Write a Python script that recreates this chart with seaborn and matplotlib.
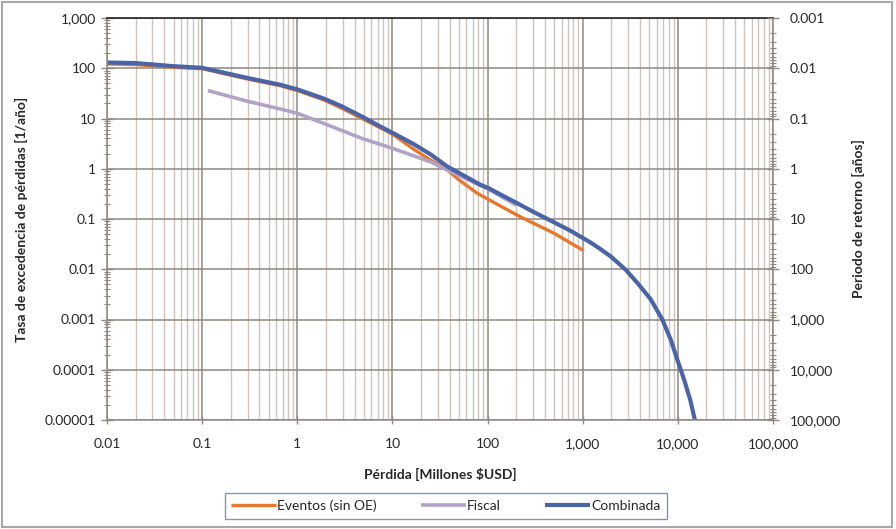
import numpy as np
import pandas as pd
import matplotlib
matplotlib.use("Agg")
import matplotlib.pyplot as plt
import seaborn as sns
from matplotlib.ticker import FixedLocator, LogLocator, NullFormatter, FixedFormatter
from matplotlib.patches import Rectangle

# ---------------- data ----------------
eventos_x = [0.01, 0.02, 0.05, 0.1, 0.3, 0.66, 1, 1.89, 2.84, 4.8, 10, 16.7, 25, 38, 50, 77,
             100, 222, 500, 1000]
eventos_y = [122, 118, 104, 98, 61, 45, 36, 23.5, 16.5, 10.0, 4.9, 2.45, 1.5, 0.94, 0.6, 0.33,
             0.25, 0.11, 0.052, 0.024]

fiscal_x = [0.115, 0.3, 0.66, 1, 1.89, 4.8, 10, 25, 38, 100, 200]
fiscal_y = [36, 22, 15.5, 12.7, 8.0, 4.0, 2.55, 1.38, 0.94, 0.40, 0.19]

combinada_x = [0.01, 0.02, 0.05, 0.1, 0.3, 0.66, 1, 1.89, 2.84, 4.8, 7.5, 10, 16.7, 25, 38, 84,
               100, 222, 300, 460, 748, 1000, 1210, 1500, 1970, 2840, 3770, 5200, 6900, 8440,
               9900, 11650, 13500, 15100]
combinada_y = [130, 127, 110, 102, 64, 47, 38, 25, 18, 10.9, 6.9, 5.2, 3.1, 1.95, 1.1, 0.48,
               0.42, 0.19, 0.14, 0.093, 0.058, 0.042, 0.034, 0.026, 0.018, 0.0097, 0.0053,
               0.0025, 0.00098, 0.00039, 0.000156, 0.000063, 0.000025, 0.00001]

series_names = ["Eventos (sin OE)", "Fiscal", "Combinada"]
series_colors = ["#E8762D", "#B3A2C7", "#4A64A6"]
series_widths = [2.4, 2.6, 3.0]

x_ticks = [0.01, 0.1, 1, 10, 100, 1000, 10000, 100000]
x_tick_labels = ["0.01", "0.1", "1", "10", "100", "1,000", "10,000", "100,000"]
y_ticks = [0.00001, 0.0001, 0.001, 0.01, 0.1, 1, 10, 100, 1000]
y_tick_labels = ["0.00001", "0.0001", "0.001", "0.01", "0.1", "1", "10", "100", "1,000"]
y2_ticks = [0.001, 0.01, 0.1, 1, 10, 100, 1000, 10000, 100000]
y2_tick_labels = ["0.001", "0.01", "0.1", "1", "10", "100", "1,000", "10,000", "100,000"]

x_label = "Pérdida [Millones $USD]"
y_label = "Tasa de excedencia de pérdidas [1/año]"
y2_label = "Periodo de retorno [años]"

# ---------------- style ----------------
sns.set_style("white")
plt.rcParams['font.family'] = ['Lato', 'DejaVu Sans']

fig = plt.figure(figsize=(8.96, 5.29), dpi=100)
ax = fig.add_axes([107/896, 1-420/529, (773-107)/896, (420-18)/529])

frames = []
for name, xs, ys in [(series_names[0], eventos_x, eventos_y),
                     (series_names[1], fiscal_x, fiscal_y),
                     (series_names[2], combinada_x, combinada_y)]:
    frames.append(pd.DataFrame({"x": xs, "y": ys, "serie": name}))
df = pd.concat(frames, ignore_index=True)

for name, col, lw in zip(series_names, series_colors, series_widths):
    sub = df[df["serie"] == name]
    sns.lineplot(data=sub, x="x", y="y", color=col, linewidth=lw, label=name,
                 ax=ax, sort=False, estimator=None, solid_capstyle="butt",
                 solid_joinstyle="round")

ax.set_xscale("log")
ax.set_yscale("log")
ax.set_xlim(0.01, 100000)
ax.set_ylim(0.00001, 1000)

major_col = "#8E897E"
minor_col = "#CEC5BF"
ax.xaxis.set_major_locator(FixedLocator(x_ticks))
ax.xaxis.set_major_formatter(FixedFormatter(x_tick_labels))
ax.xaxis.set_minor_locator(LogLocator(base=10, subs=np.arange(2, 10), numticks=100))
ax.xaxis.set_minor_formatter(NullFormatter())
ax.yaxis.set_major_locator(FixedLocator(y_ticks))
ax.yaxis.set_major_formatter(FixedFormatter(y_tick_labels))
ax.yaxis.set_minor_locator(LogLocator(base=10, subs=np.arange(2, 10), numticks=100))
ax.yaxis.set_minor_formatter(NullFormatter())

ax.grid(True, which="major", axis="both", color=major_col, linewidth=1.1)
ax.grid(True, which="minor", axis="x", color=minor_col, linewidth=1.0)
ax.set_axisbelow(True)

ax.tick_params(axis="y", which="major", direction="inout", length=8, width=1, color=major_col,
               labelsize=10, pad=4, left=True)
ax.tick_params(axis="y", which="minor", direction="inout", length=5, width=0.8, color=major_col, left=True)
ax.tick_params(axis="x", which="major", direction="inout", length=6, width=1, color=major_col,
               labelsize=10, pad=10, bottom=True)
ax.tick_params(axis="x", which="minor", length=0)

for s in ["left", "right", "bottom"]:
    ax.spines[s].set_color(major_col)
    ax.spines[s].set_linewidth(1.1)
ax.spines["top"].set_color("#222222")
ax.spines["top"].set_linewidth(1.2)

ax.set_xlabel(x_label, fontsize=10, fontweight="bold", labelpad=13)
ax.set_ylabel(y_label, fontsize=10, fontweight="bold", labelpad=12)

# right axis
ax2 = ax.twinx()
ax2.set_yscale("log")
ax2.set_ylim(100000, 0.001)
ax2.yaxis.set_major_locator(FixedLocator(y2_ticks))
ax2.yaxis.set_major_formatter(FixedFormatter(y2_tick_labels))
ax2.yaxis.set_minor_locator(LogLocator(base=10, subs=np.arange(2, 10), numticks=100))
ax2.yaxis.set_minor_formatter(NullFormatter())
ax2.tick_params(axis="y", which="major", direction="inout", length=8, width=1, color=major_col,
                labelsize=10, pad=8)
ax2.tick_params(axis="y", which="minor", direction="inout", length=5, width=0.8, color=major_col)
ax2.set_ylabel(y2_label, fontsize=10, fontweight="bold", labelpad=8)
for s in ax2.spines.values():
    s.set_visible(False)
ax2.grid(False)

# legend
ax.get_legend().remove()
handles, labels = ax.get_legend_handles_labels()
leg = fig.legend(handles, labels, loc="center", bbox_to_anchor=(446/896, 1-506/529), ncol=3,
                 frameon=True, fancybox=False, fontsize=10, handlelength=3.2,
                 handletextpad=0.1, columnspacing=3.2, borderpad=0.45)
leg.get_frame().set_edgecolor("#5B7DB8")
leg.get_frame().set_linewidth(1.0)

fig.patches.append(Rectangle((0.002, 0.003), 0.994, 0.994, transform=fig.transFigure,
                             fill=False, edgecolor="#A8A8A8", linewidth=1.5))

fig.savefig("out.png", dpi=100)
